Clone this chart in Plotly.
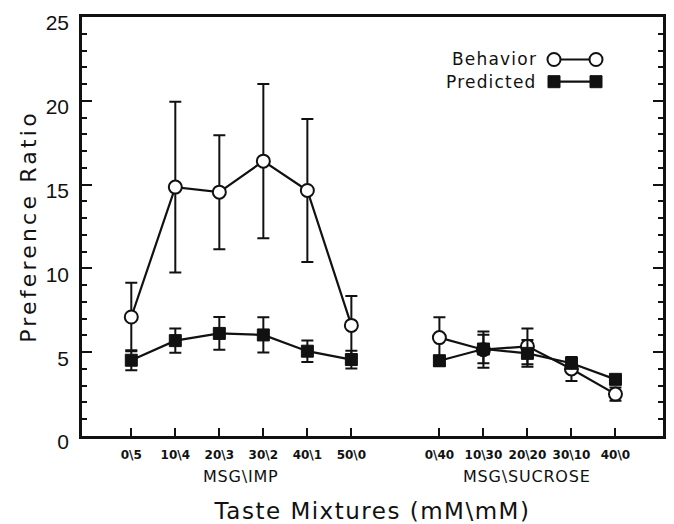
import plotly.graph_objects as go

# ---- data ----
imp_labels = ["0\\5", "10\\4", "20\\3", "30\\2", "40\\1", "50\\0"]
suc_labels = ["0\\40", "10\\30", "20\\20", "30\\10", "40\\0"]
imp_pos = [1, 2, 3, 4, 5, 6]
suc_pos = [8, 9, 10, 11, 12]

beh_imp = [7.1, 14.85, 14.55, 16.4, 14.65, 6.6]
beh_imp_err = [2.05, 5.1, 3.4, 4.6, 4.27, 1.75]
pred_imp = [4.52, 5.69, 6.12, 6.03, 5.06, 4.56]
pred_imp_err = [0.6, 0.72, 0.98, 1.05, 0.64, 0.53]

beh_suc = [5.87, 5.15, 5.35, 4.0, 2.5]
beh_suc_err = [1.22, 1.08, 1.07, 0.72, 0.4]
pred_suc = [4.49, 5.19, 4.93, 4.34, 3.38]
pred_suc_err = [0.3, 0.85, 0.8, 0.3, 0.2]

group_names = ["MSG\\IMP", "MSG\\SUCROSE"]
group_centers = [3.5, 10]

legend_names = ["Behavior", "Predicted"]

BLACK = "#111111"
FONT = "DejaVu Sans"

def sp(text, px):
    return f'<span style="letter-spacing:{px}px">{text}</span>'

beh_marker = dict(symbol="circle", size=13, color="white", line=dict(color=BLACK, width=2))
pred_marker = dict(symbol="square", size=12, color=BLACK, line=dict(color=BLACK, width=1))
err_style = dict(type="data", color=BLACK, thickness=2, width=6)

fig = go.Figure()
for xs, ys, es in [(imp_pos, beh_imp, beh_imp_err), (suc_pos, beh_suc, beh_suc_err)]:
    fig.add_trace(go.Scatter(x=xs, y=ys, mode="lines+markers",
                             line=dict(color=BLACK, width=2.2), marker=beh_marker,
                             error_y=dict(array=es, **err_style), showlegend=False))
for xs, ys, es in [(imp_pos, pred_imp, pred_imp_err), (suc_pos, pred_suc, pred_suc_err)]:
    fig.add_trace(go.Scatter(x=xs, y=ys, mode="lines+markers",
                             line=dict(color=BLACK, width=2.2), marker=pred_marker,
                             error_y=dict(array=es, **err_style), showlegend=False))

# legend keys (overlay axes in plot-fraction units)
key_x = [0.8124, 0.8847]
key_y = [0.8986, 0.8456]
fig.add_trace(go.Scatter(x=key_x, y=[key_y[0]] * 2, xaxis="x2", yaxis="y2",
                         mode="lines+markers", line=dict(color=BLACK, width=2.2),
                         marker=beh_marker, showlegend=False, hoverinfo="skip"))
fig.add_trace(go.Scatter(x=key_x, y=[key_y[1]] * 2, xaxis="x2", yaxis="y2",
                         mode="lines+markers", line=dict(color=BLACK, width=2.2),
                         marker=pred_marker, showlegend=False, hoverinfo="skip"))

annotations = []
for name, yy in zip(legend_names, key_y):
    annotations.append(dict(text=sp(name, 1.2), xref="paper", yref="paper",
                            x=0.7866, y=yy, xanchor="right", yanchor="middle",
                            showarrow=False, font=dict(family=FONT, size=17, color=BLACK)))
for name, cx in zip(group_names, group_centers):
    annotations.append(dict(text=sp(name, 0.8), xref="x", yref="paper",
                            x=cx, y=-0.0955, xanchor="center", yanchor="middle",
                            showarrow=False, font=dict(family=FONT, size=16, color=BLACK)))

fig.update_layout(
    width=674, height=524,
    margin=dict(l=82, r=11, t=17, b=88),
    paper_bgcolor="white", plot_bgcolor="white",
    showlegend=False,
    annotations=annotations,
    xaxis=dict(
        range=[-0.12, 13.08], automargin=False,
        tickmode="array", tickvals=imp_pos + suc_pos, ticktext=imp_labels + suc_labels,
        ticks="inside", ticklen=8, tickwidth=2, tickcolor=BLACK,
        showline=True, linewidth=2.5, linecolor=BLACK, mirror=True,
        showgrid=False, zeroline=False,
        tickfont=dict(family="DejaVu Sans", size=12, color=BLACK, weight="bold"),
        ticklabelstandoff=6,
        title=dict(text=sp("Taste Mixtures (mM\\mM)", 1.5), standoff=44,
                   font=dict(family=FONT, size=23, color=BLACK)),
    ),
    yaxis=dict(
        range=[0, 25], tickvals=[0, 5, 10, 15, 20, 25], automargin=False,
        ticks="inside", ticklen=10, tickwidth=2, tickcolor=BLACK,
        minor=dict(dtick=1, ticks="inside", ticklen=5, tickwidth=1.5, tickcolor=BLACK),
        showline=True, linewidth=2.5, linecolor=BLACK, mirror="ticks",
        showgrid=False, zeroline=False,
        tickfont=dict(family="Liberation Sans", size=21, color=BLACK),
        ticklabelstandoff=6, ticklabelshift=6,
        title=dict(text=sp("Preference Ratio", 3.2), standoff=3,
                   font=dict(family=FONT, size=22, color=BLACK)),
    ),
    xaxis2=dict(overlaying="x", range=[0, 1], visible=False),
    yaxis2=dict(overlaying="y", range=[0, 1], visible=False),
)

fig.write_html("out.html")
